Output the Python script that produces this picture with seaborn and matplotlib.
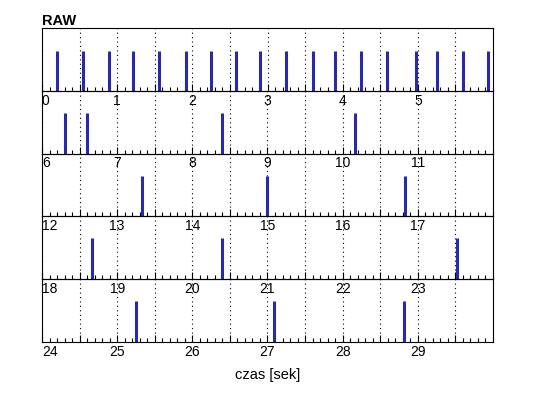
import numpy as np
import pandas as pd
import matplotlib
matplotlib.use("Agg")
import matplotlib.pyplot as plt
import seaborn as sns

# czasy impulsow [s]
spike_times = [0.20, 0.55, 0.89, 1.21, 1.56, 1.91, 2.25, 2.58, 2.90,
               3.25, 3.60, 3.90, 4.25, 4.59, 4.98, 5.26, 5.60, 5.94,
               6.30, 6.60, 8.40, 10.17,
               13.33, 15.00, 16.83,
               18.66, 20.40, 23.52,
               25.25, 27.09, 28.81]
spike_heights = [0.64] * 18 + [0.65] * 13
row_len = 6
n_rows = 5

df = pd.DataFrame({"t": spike_times, "h": spike_heights})
df["row"] = (df["t"] // row_len).astype(int)

sns.set_style("white")
plt.rcParams["font.family"] = ["Liberation Sans", "DejaVu Sans"]
plt.rcParams["text.color"] = "black"
plt.rcParams["axes.labelcolor"] = "black"
plt.rcParams["xtick.color"] = "black"

g = sns.FacetGrid(df, row="row", row_order=list(range(n_rows)), sharex=False,
                  sharey=True, despine=False, height=0.8, aspect=6)
g.figure.set_size_inches(5.38, 3.98)
g.figure.set_dpi(100)


def spikes(data, **kw):
    kw.pop("color", None)
    ax = plt.gca()
    ax.vlines(data["t"], 0, data["h"], color="#2a2aa8", linewidth=2.2)


g.map_dataframe(spikes)
g.set_titles(row_template="", col_template="")
g.set_axis_labels("", "")

for i, ax in enumerate(g.axes.flat):
    start = i * row_len
    ax.set_facecolor("none")
    ax.set_xlim(start, start + row_len)
    ax.set_ylim(0, 1)
    ax.set_yticks([])
    major = np.arange(start, start + row_len, 0.5)
    ax.set_xticks(major)
    labels = [str(int(v)) if v == int(v) else "" for v in major]
    ax.set_xticklabels(labels, fontsize=10, color="black")
    ax.get_xticklabels()[0].set_horizontalalignment("left")
    ax.set_xticks(np.arange(start, start + row_len + 0.001, 0.1), minor=True)
    ax.tick_params(axis="x", which="major", direction="in", length=5,
                   width=0.8, color="black", pad=2, bottom=True)
    ax.tick_params(axis="x", which="minor", direction="in", length=3,
                   width=0.8, color="black", bottom=True)
    ax.grid(axis="x", which="major", color="black", linestyle=(0, (1, 3)),
            linewidth=0.8)
    ax.grid(axis="y", visible=False)
    for s in ax.spines.values():
        s.set_color("black")
        s.set_linewidth(0.8)

g.axes.flat[0].set_title("RAW", loc="left", fontweight="bold", fontsize=10.5,
                         pad=2, color="black")
g.axes.flat[-1].set_xlabel("czas [sek]", fontsize=10.5, labelpad=7, color="black")

g.figure.subplots_adjust(left=42 / 538, right=493 / 538, top=1 - 28 / 398,
                         bottom=1 - 342 / 398, hspace=0)
g.figure.savefig("out.png", dpi=100)
